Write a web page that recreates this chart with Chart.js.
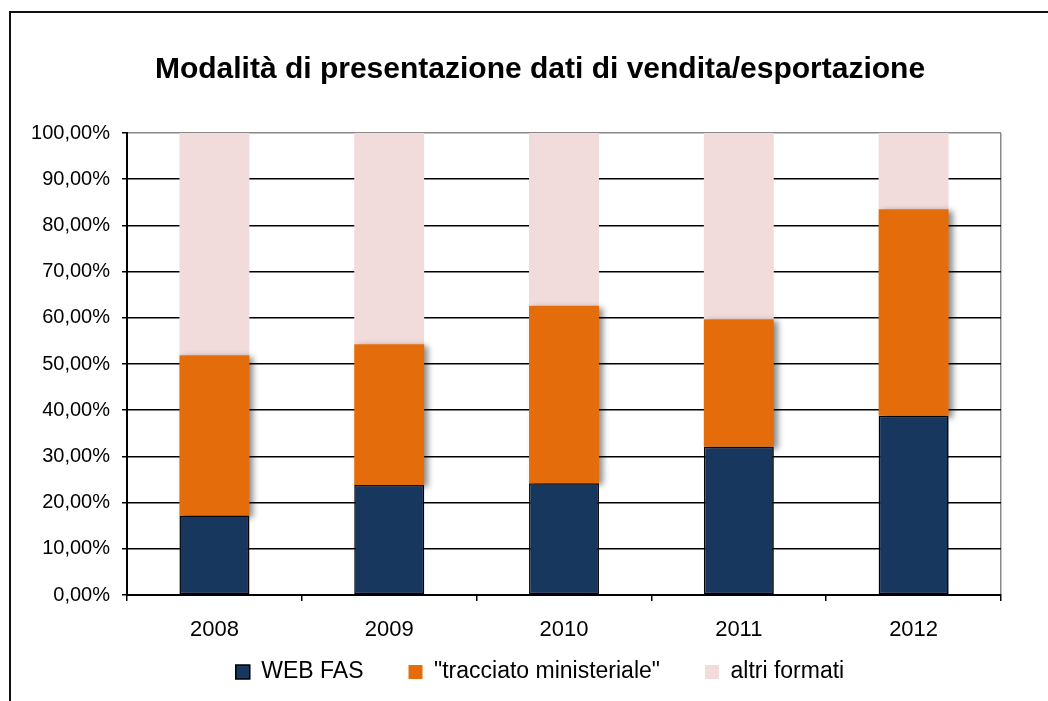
<!DOCTYPE html>
<html>
<head>
<meta charset="utf-8">
<script src="https://cdn.jsdelivr.net/npm/chart.js@4.4.1/dist/chart.umd.min.js"></script>
<style>
  html, body { margin: 0; padding: 0; background: #fff; overflow: hidden; }
  #wrap { position: relative; width: 1048px; height: 701px; }
  #frame { position: absolute; left: 9px; top: 11px; width: 1100px; height: 800px; border: 2px solid #111; box-sizing: border-box; }
  canvas { position: absolute; left: 0; top: 0; }
</style>
</head>
<body>
<div id="wrap">
  <div id="frame"></div>
  <canvas id="c" width="1048" height="701"></canvas>
</div>
<script>
const titleText = 'Modalità di presentazione dati di vendita/esportazione';
const categories = ['2008', '2009', '2010', '2011', '2012'];
const seriesNames = ['WEB FAS', '"tracciato ministeriale"', 'altri formati'];
const webFas = [17.2, 23.8, 24.2, 32.1, 38.8];
const tracciato = [34.7, 30.5, 38.4, 27.6, 44.7];
const altriFormati = [48.1, 45.7, 37.4, 40.3, 16.5];
const yTickValues = [0, 10, 20, 30, 40, 50, 60, 70, 80, 90, 100];

const FONT = "'Liberation Sans', Arial, sans-serif";

const shadowPlugin = {
  id: 'barShadow',
  beforeDatasetDraw(chart, args) {
    if (args.index < 2) {
      const c = chart.ctx;
      c.save();
      c.shadowColor = 'rgba(0,0,0,0.45)';
      c.shadowBlur = 6;
      c.shadowOffsetX = 4;
      c.shadowOffsetY = 2;
    }
  },
  afterDatasetDraw(chart, args) {
    if (args.index < 2) chart.ctx.restore();
  }
};

// centre title and legend on the (wider) outer chart frame, keep x labels unclipped
const layoutTweak = {
  id: 'layoutTweak',
  afterLayout(chart) {
    if (chart.titleBlock) chart.titleBlock.left = 79;
    if (chart.legend) chart.legend.left = 79;
    if (chart.scales.x) chart.scales.x.bottom = 660;
  }
};

new Chart(document.getElementById('c'), {
  type: 'bar',
  data: {
    labels: categories,
    datasets: [
      { label: seriesNames[0], data: webFas, backgroundColor: '#17375E', borderColor: '#000', borderWidth: 1.5, borderSkipped: false },
      { label: seriesNames[1], data: tracciato, backgroundColor: '#E46C0A', borderWidth: 0 },
      { label: seriesNames[2], data: altriFormati, backgroundColor: '#F2DCDB', borderWidth: 0 }
    ]
  },
  plugins: [shadowPlugin, layoutTweak],
  options: {
    responsive: false,
    animation: false,
    devicePixelRatio: 1,
    layout: { padding: { left: 0, right: 47, top: 0, bottom: 7.5 } },
    datasets: { bar: { categoryPercentage: 1.0, barPercentage: 0.4 } },
    plugins: {
      title: {
        display: true,
        text: titleText,
        color: '#000',
        font: { family: FONT, size: 30, weight: 'bold', lineHeight: 1.2 },
        padding: { top: 52, bottom: 45 }
      },
      legend: {
        display: true,
        position: 'bottom',
        labels: {
          color: '#000',
          font: { family: FONT, size: 23 },
          boxWidth: 14,
          boxHeight: 14,
          padding: 45
        }
      },
      tooltip: { enabled: false }
    },
    scales: {
      x: {
        stacked: true,
        afterFit(scale) { scale.height = 20.5; },
        border: { display: true, color: '#000', width: 2 },
        grid: {
          offset: true,
          drawTicks: true,
          tickLength: 6,
          lineWidth: 1.5,
          tickColor: '#000',
          color: (ctx) => ctx.type === 'scale' ? '#8a8a8a' : 'rgba(0,0,0,0)'
        },
        ticks: { color: '#000', font: { family: FONT, size: 22 }, padding: 16, maxRotation: 0 }
      },
      y: {
        stacked: true,
        min: 0,
        max: 100,
        afterFit(scale) { scale.width = 127; },
        afterBuildTicks(scale) { scale.ticks = yTickValues.map(v => ({ value: v })); },
        border: { display: true, color: '#000', width: 2 },
        grid: {
          drawTicks: true,
          tickLength: 5,
          lineWidth: 1.5,
          tickColor: '#000',
          color: (ctx) => (ctx.tick && ctx.tick.value === 100) ? '#8a8a8a' : '#000'
        },
        ticks: {
          color: '#000',
          font: { family: FONT, size: 20 },
          padding: 12,
          callback: (v) => v.toFixed(2).replace('.', ',') + '%'
        }
      }
    }
  }
});
</script>
</body>
</html>
